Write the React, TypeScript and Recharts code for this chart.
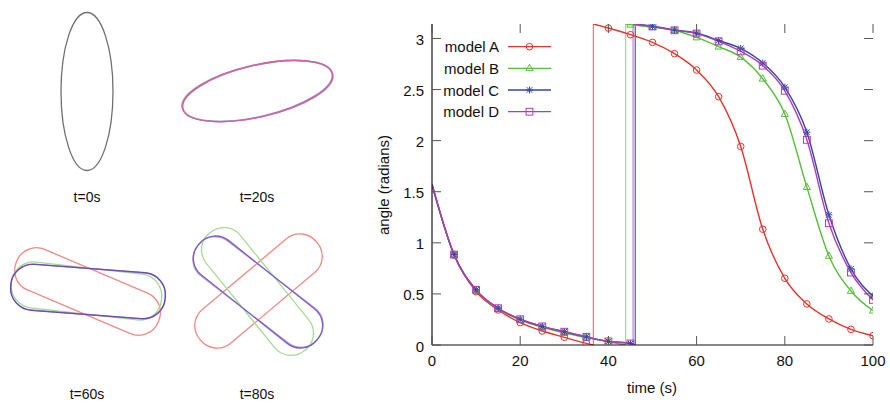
import React from 'react';
import { LineChart, Line, XAxis, YAxis, ReferenceLine } from 'recharts';

// ---- data ----
const times = [0, 5, 10, 15, 20, 25, 30, 35, 40, 45, 50, 55, 60, 65, 70, 75, 80, 85, 90, 95, 100];
const modelNames = ['model A', 'model B', 'model C', 'model D'];
const modelA = [1.571, 0.88, 0.522, 0.343, 0.219, 0.137, 0.075, 0.016, 3.102, 3.037, 2.962, 2.851, 2.691, 2.43, 1.943, 1.133, 0.653, 0.402, 0.255, 0.153, 0.091];
const modelB = [1.571, 0.882, 0.535, 0.352, 0.245, 0.172, 0.12, 0.072, 0.03, 3.135, 3.11, 3.08, 3.01, 2.92, 2.818, 2.606, 2.26, 1.545, 0.872, 0.529, 0.336];
const modelC = [1.571, 0.885, 0.54, 0.36, 0.252, 0.182, 0.13, 0.08, 0.035, 0.015, 3.12, 3.083, 3.053, 2.98, 2.903, 2.76, 2.524, 2.083, 1.274, 0.745, 0.48];
const modelD = [1.571, 0.885, 0.54, 0.36, 0.252, 0.182, 0.13, 0.08, 0.035, 0.015, 3.118, 3.08, 3.048, 2.972, 2.874, 2.734, 2.488, 2.008, 1.192, 0.709, 0.441];
const wrapTimes = [36.6, 43.9, 46.1, 45.6];
const xTicks = [0, 20, 40, 60, 80, 100];
const yTicks = [0, 0.5, 1, 1.5, 2, 2.5, 3];
const panelLabels = ['t=0s', 't=20s', 't=60s', 't=80s'];

const PI = Math.PI;
const FONT = '"Liberation Sans", Arial, Helvetica, sans-serif';

const colors = ['#e8322b', '#56bf3a', '#3446a8', '#b03cb4'];
const wrapColors = ['#f07a78', '#a6dc96', '#5566c8', '#c98ad6'];
const markerKinds = ['circle', 'triangle', 'star', 'square'];
const allModels = [modelA, modelB, modelC, modelD];

// plot frame (layout)
const PLOT = { left: 432, right: 873, top: 24, bottom: 345 };
const TICK_LEN = 9;

type Pt = { t: number; v: number; m: boolean };

function split(values: number[], wrap: number) {
  const pre: Pt[] = [];
  const post: Pt[] = [];
  times.forEach((t, i) => {
    const p = { t, v: values[i], m: t > 0 };
    if (t < wrap) pre.push(p);
    else post.push(p);
  });
  pre.push({ t: wrap, v: 0, m: false });
  post.unshift({ t: wrap, v: PI, m: false });
  return { pre, post };
}

const series = allModels.map((vals, i) => split(vals, wrapTimes[i]));

function marker(kind: string, cx: number, cy: number, color: string, key?: any) {
  const sw = 1;
  if (kind === 'circle') return <circle key={key} cx={cx} cy={cy} r={3.3} fill="none" stroke={color} strokeWidth={sw} />;
  if (kind === 'triangle')
    return (
      <polygon
        key={key}
        points={`${cx},${cy - 4} ${cx - 3.6},${cy + 2.4} ${cx + 3.6},${cy + 2.4}`}
        fill="none"
        stroke={color}
        strokeWidth={sw}
      />
    );
  if (kind === 'star')
    return (
      <g key={key} stroke={color} strokeWidth={sw}>
        <line x1={cx - 3.5} y1={cy} x2={cx + 3.5} y2={cy} />
        <line x1={cx} y1={cy - 3.5} x2={cx} y2={cy + 3.5} />
        <line x1={cx - 2.8} y1={cy - 2.8} x2={cx + 2.8} y2={cy + 2.8} />
        <line x1={cx - 2.8} y1={cy + 2.8} x2={cx + 2.8} y2={cy - 2.8} />
      </g>
    );
  return <rect key={key} x={cx - 3.4} y={cy - 3.4} width={6.8} height={6.8} fill="none" stroke={color} strokeWidth={sw} />;
}

const makeDot = (i: number) => (props: any) => {
  const { cx, cy, payload, index } = props;
  if (!payload || !payload.m || cx == null || cy == null) return <g key={`e${index}`} />;
  return marker(markerKinds[i], cx, cy, colors[i], `d${index}`);
};

const XTick = (props: any) => {
  const { x, payload } = props;
  const cx = payload && payload.coordinate != null ? payload.coordinate : x;
  return (
    <g>
      <line x1={cx} x2={cx} y1={PLOT.bottom} y2={PLOT.bottom - TICK_LEN} stroke="#555" strokeWidth={1} />
      <line x1={cx} x2={cx} y1={PLOT.top} y2={PLOT.top + TICK_LEN} stroke="#555" strokeWidth={1} />
      <text x={cx} y={360} textAnchor="middle" dominantBaseline="central" fontSize={15} fontFamily={FONT} fill="#111">
        {payload.value}
      </text>
    </g>
  );
};

const YTick = (props: any) => {
  const { y, payload } = props;
  const cy = payload && payload.coordinate != null ? payload.coordinate : y;
  return (
    <g>
      <line x1={PLOT.left} x2={PLOT.left + TICK_LEN} y1={cy} y2={cy} stroke="#555" strokeWidth={1} />
      <line x1={PLOT.right} x2={PLOT.right - TICK_LEN} y1={cy} y2={cy} stroke="#555" strokeWidth={1} />
      <text x={424} y={cy + 1} textAnchor="end" dominantBaseline="central" fontSize={15} fontFamily={FONT} fill="#111">
        {payload.value}
      </text>
    </g>
  );
};

// ---- left illustration geometry (decorative) ----
const ovalShapes: any[][] = [
  // t=20s
  [
    { cx: 257.5, cy: 91, L: 154, T: 52, a: -12.3, c: '#a8d890', r: 0.5 },
    { cx: 257.5, cy: 91, L: 154, T: 52, a: -13, c: '#f0a080', r: 0.5 },
    { cx: 257.5, cy: 91, L: 153, T: 51, a: -13.3, c: '#9090d8', r: 0.5 },
    { cx: 257.5, cy: 91, L: 154, T: 52, a: -13, c: '#d060a8', r: 0.5 },
  ],
  // t=60s
  [
    { cx: 87.5, cy: 291.5, L: 154, T: 44, a: 23, c: '#f08a86', r: 0.48 },
    { cx: 86.5, cy: 291, L: 151, T: 46, a: 6.5, c: '#9fdc90', r: 0.48 },
    { cx: 88, cy: 291.5, L: 155, T: 46, a: 4.6, c: '#9b8cd8', r: 0.48 },
    { cx: 88, cy: 291.5, L: 155, T: 46, a: 4.3, c: '#7048b0', r: 0.48 },
  ],
  // t=80s
  [
    { cx: 258.5, cy: 291, L: 152, T: 44, a: -40, c: '#f08a86', r: 0.48 },
    { cx: 257.5, cy: 291.5, L: 151, T: 44, a: 51, c: '#a6dc96', r: 0.48 },
    { cx: 258, cy: 292, L: 152, T: 44, a: 37.5, c: '#c8a0e0', r: 0.48 },
    { cx: 258, cy: 292, L: 152, T: 44, a: 38.5, c: '#7860c0', r: 0.48 },
  ],
];

function LeftPanel() {
  const labelPos = [
    [87, 197],
    [257, 197],
    [87, 394],
    [257, 394],
  ];
  return (
    <svg width={380} height={403} style={{ position: 'absolute', left: 0, top: 0 }}>
      <ellipse cx={87} cy={91.5} rx={26} ry={79} fill="none" stroke="#707070" strokeWidth={1.3} />
      {ovalShapes.map((group, gi) =>
        group.map((s: any, si: number) =>
          gi === 0 ? (
            <ellipse
              key={`${gi}-${si}`}
              cx={0}
              cy={0}
              rx={s.L / 2}
              ry={s.T / 2}
              transform={`translate(${s.cx},${s.cy}) rotate(${s.a})`}
              fill="none"
              stroke={s.c}
              strokeWidth={1.3}
            />
          ) : (
            <rect
              key={`${gi}-${si}`}
              x={-s.L / 2}
              y={-s.T / 2}
              width={s.L}
              height={s.T}
              rx={s.T * s.r}
              ry={s.T * s.r}
              transform={`translate(${s.cx},${s.cy}) rotate(${s.a})`}
              fill="none"
              stroke={s.c}
              strokeWidth={1.3}
            />
          )
        )
      )}
      {panelLabels.map((lab, i) => (
        <text
          key={lab}
          x={labelPos[i][0]}
          y={labelPos[i][1]}
          textAnchor="middle"
          dominantBaseline="central"
          fontSize={14}
          fontFamily={FONT}
          fill="#111"
        >
          {lab}
        </text>
      ))}
    </svg>
  );
}

function Legend() {
  const rowY = [46.7, 68.3, 90, 111.7];
  return (
    <svg width={890} height={403} style={{ position: 'absolute', left: 0, top: 0, pointerEvents: 'none' }}>
      {modelNames.map((name, i) => (
        <g key={name}>
          <text x={499} y={rowY[i]} textAnchor="end" dominantBaseline="central" fontSize={15} fontFamily={FONT} fill="#111">
            {name}
          </text>
          <line x1={508} x2={551} y1={rowY[i]} y2={rowY[i]} stroke={colors[i]} strokeWidth={1.3} />
          {marker(markerKinds[i], 529.5, rowY[i], colors[i])}
        </g>
      ))}
      <text x={652} y={387} textAnchor="middle" dominantBaseline="central" fontSize={15} fontFamily={FONT} fill="#111">
        time (s)
      </text>
      <text
        x={383}
        y={185}
        textAnchor="middle"
        dominantBaseline="central"
        fontSize={15}
        fontFamily={FONT}
        fill="#111"
        transform="rotate(-90 383 185)"
      >
        angle (radians)
      </text>
    </svg>
  );
}

export default function App() {
  return (
    <div style={{ position: 'absolute', left: 0, top: 0, width: 890, height: 403, background: '#fff', fontFamily: FONT }}>
      <LineChart width={890} height={403} margin={{ top: 24, right: 17, bottom: 0, left: 0 }}>
        <XAxis
          xAxisId="b"
          dataKey="t"
          type="number"
          domain={[0, 100]}
          ticks={xTicks}
          height={58}
          tickLine={false}
          tick={<XTick />}
          axisLine={{ stroke: '#111', strokeWidth: 1.2 }}
          allowDataOverflow
        />
        <XAxis
          xAxisId="t"
          orientation="top"
          dataKey="t"
          type="number"
          domain={[0, 100]}
          ticks={xTicks}
          height={0}
          tick={false}
          tickLine={false}
          axisLine={{ stroke: '#111', strokeWidth: 1.2 }}
          allowDataOverflow
        />
        <YAxis
          yAxisId="l"
          type="number"
          domain={[0, PI]}
          ticks={yTicks}
          width={432}
          tickLine={false}
          tick={<YTick />}
          axisLine={{ stroke: '#111', strokeWidth: 1.2 }}
          allowDataOverflow
        />
        <YAxis
          yAxisId="r"
          orientation="right"
          type="number"
          domain={[0, PI]}
          ticks={yTicks}
          width={0}
          tick={false}
          tickLine={false}
          axisLine={{ stroke: '#111', strokeWidth: 1.2 }}
          allowDataOverflow
        />
        {wrapTimes.map((w, i) => (
          <ReferenceLine
            key={`w${i}`}
            xAxisId="b"
            yAxisId="l"
            segment={[
              { x: w, y: 0 },
              { x: w, y: PI },
            ]}
            stroke={wrapColors[i]}
            strokeWidth={1.3}
          />
        ))}
        {series.map((s, i) => [
          <Line
            key={`pre${i}`}
            xAxisId="b"
            yAxisId="l"
            data={s.pre}
            dataKey="v"
            type="monotone"
            stroke={colors[i]}
            strokeWidth={1.4}
            dot={makeDot(i)}
            activeDot={false}
            isAnimationActive={false}
          />,
          <Line
            key={`post${i}`}
            xAxisId="b"
            yAxisId="l"
            data={s.post}
            dataKey="v"
            type="monotone"
            stroke={colors[i]}
            strokeWidth={1.4}
            dot={makeDot(i)}
            activeDot={false}
            isAnimationActive={false}
          />,
        ])}
      </LineChart>
      <LeftPanel />
      <Legend />
    </div>
  );
}
